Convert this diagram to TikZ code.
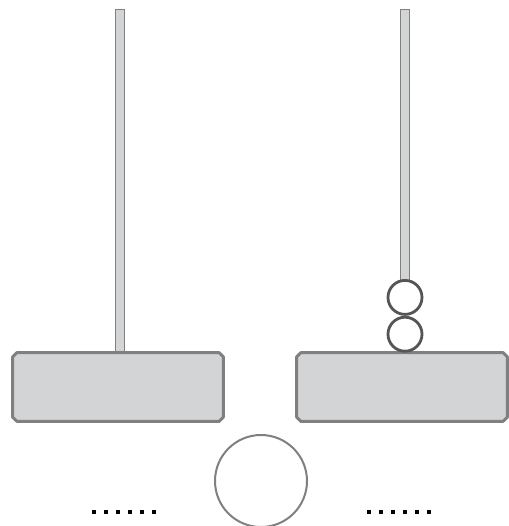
\documentclass[tikz,border=0pt]{standalone}
\usetikzlibrary{positioning}
\definecolor{stGray}{HTML}{D3D4D6}
\definecolor{stEdge}{HTML}{808080}
\definecolor{stDark}{HTML}{555555}
\tikzset{
  stand/.style={rectangle, minimum width=105pt, minimum height=34pt, inner sep=0pt},
  standline/.style={draw=stEdge, line width=1.5pt, fill=stGray, line join=round},
  pole/.style={rectangle, draw=stEdge, line width=0.5pt, fill=stGray,
    minimum width=4.5pt, inner sep=0pt},
  ring/.style={circle, draw=stDark, line width=1.4pt, fill=white,
    minimum size=17pt, inner sep=0pt},
  ball/.style={circle, draw=stEdge, line width=1pt, fill=white,
    minimum size=46pt, inner sep=0pt},
  dotsq/.style={rectangle, fill=black, minimum size=2.2pt, inner sep=0pt}
}
\begin{document}
\begin{tikzpicture}[x=0.5pt, y=-0.5pt]
  \useasboundingbox (0,0) rectangle (509,526);
  % poles first, so the stands hide their feet
  \node[pole, minimum height=171.5pt] (lpole) at (120,180.5) {};
  \node[pole, minimum height=135.5pt] (rpole) at (405,144.5) {};
  \node[stand] (lstand) at (118,387) {};
  \node[stand] (rstand) at (402,387) {};
  % chamfered outline of each stand
  \foreach \s in {lstand,rstand}
    \draw[standline] ([xshift=2.2pt]\s.north west) -- ([xshift=-2.2pt]\s.north east)
      -- ([yshift=-2.2pt]\s.north east) -- ([yshift=2.2pt]\s.south east)
      -- ([xshift=-2.2pt]\s.south east) -- ([xshift=2.2pt]\s.south west)
      -- ([yshift=2.2pt]\s.south west) -- ([yshift=-2.2pt]\s.north west) -- cycle;
  % rings on the right pole
  \node[ring, above=0pt of rstand.north -| rpole] (ringa) {};
  \node[ring, above=0pt of ringa] (ringb) {};
  % ball between the stands
  \node[ball] (ball) at (261,481) {};
  \foreach \i in {0,...,5} {
    \node[dotsq] (ldot\i) at (94+\i*12,512) {};
    \node[dotsq] (rdot\i) at (369+\i*12,512) {};
  }
\end{tikzpicture}
\end{document}
